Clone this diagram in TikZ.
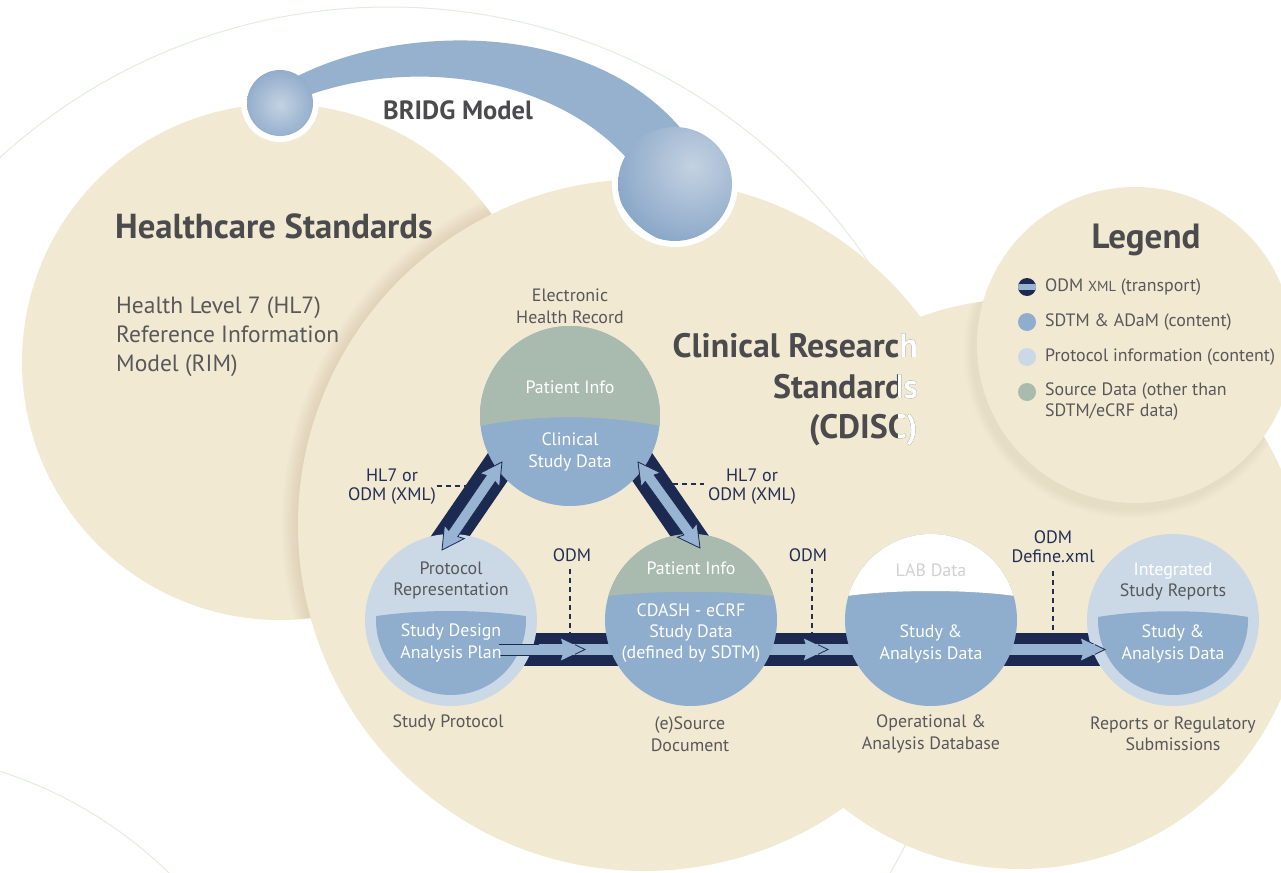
\documentclass[tikz,border=0pt]{standalone}
\usepackage{fontspec}
\setmainfont{PT Sans}
\usetikzlibrary{calc}

\definecolor{beige}{HTML}{F2E9D3}
\definecolor{shadebrown}{HTML}{B8A27A}
\definecolor{navy}{HTML}{1C2951}
\definecolor{midblue}{HTML}{8FADCD}
\definecolor{stripeblue}{HTML}{98B4D3}
\definecolor{paleblue}{HTML}{CBD9E7}
\definecolor{sage}{HTML}{A8BBAE}
\definecolor{txtgrey}{HTML}{58585A}
\definecolor{headgrey}{HTML}{4B4B4D}
\definecolor{odmtext}{HTML}{232E55}
\definecolor{faint}{HTML}{E3ECE0}
\definecolor{bridgband}{HTML}{96B1CD}
\definecolor{sphlight}{HTML}{C4D2E2}
\definecolor{sphdark}{HTML}{8AA7C8}

\tikzset{
  lbl/.style={text=txtgrey, font=\fontsize{17.9}{21.5}\selectfont, align=center, inner sep=0pt},
  wlbl/.style={text=white, font=\fontsize{17.9}{21.2}\selectfont, align=center, inner sep=0pt},
  odmlbl/.style={text=odmtext, font=\fontsize{18}{19}\selectfont, align=center, inner sep=0pt},
  bighead/.style={text=headgrey, font=\bfseries\fontsize{34.7}{40.5}\selectfont, inner sep=0pt},
  crshead/.style={bighead, font=\bfseries\fontsize{33.9}{40.5}\selectfont, align=right, anchor=east},
  dashlink/.style={odmtext, line width=1.3pt, dash pattern=on 5pt off 4pt},
  navyband/.style={navy, line width=33pt},
  lightarrow/.style={fill=stripeblue, draw=navy, line width=0.8pt, line join=miter},
  spot/.style={circle, inner sep=0pt, minimum size=#1},
}

\begin{document}
\begin{tikzpicture}[x=1pt, y=-1pt]
\useasboundingbox (0,0) rectangle (1281,872);
\clip (0,0) rectangle (1281,872);
\fill[white] (0,0) rectangle (1281,872);

% faint background rings
\draw[faint, line width=1pt] (389,585) circle [radius=578pt];
\draw[faint, line width=1pt] (-131,1181) circle [radius=430pt];

% large standard areas
\fill[beige] (280,362) circle [radius=258pt];
\fill[beige] (1020,584) circle [radius=285pt];
% soft shadows cast by the overlapping areas
\begin{scope}
  \clip (280,362) circle [radius=258pt];
  \foreach \k in {1,...,8}{
    \fill[shadebrown, opacity=0.035] (644,525) circle [radius={346+2*\k}];
  }
\end{scope}
\begin{scope}
  \clip (1020,584) circle [radius=285pt];
  \foreach \k in {1,...,6}{
    \fill[shadebrown, opacity=0.025] (1131,351) circle [radius={158+1.5*\k}];
  }
\end{scope}
\fill[beige] (644,525) circle [radius=346pt];
\fill[beige] (1135,345) circle [radius=158pt];

% BRIDG link
\fill[white] (280,103) circle [radius=39pt];
\fill[white] (675,184) circle [radius=63pt];
\fill[bridgband] (294,78) .. controls (400,22) and (600,18) .. (690,140)
  -- (630,162) .. controls (560,80) and (420,55) .. (306,96) -- cycle;
\begin{scope}
  \clip (280,103) circle [radius=33pt];
  \shade[inner color=sphlight, outer color=sphdark] (280,105) circle [radius=40pt];
\end{scope}
\begin{scope}
  \clip (675,184) circle [radius=57pt];
  \shade[inner color=sphlight, outer color=sphdark] (692,166) circle [radius=80pt];
\end{scope}
\node[spot=66pt] (bridgL) at (280,103) {};
\node[spot=114pt] (bridgR) at (675,184) {};

% named positions of the data stores
\node[spot=180pt] (ehr) at (570,416) {};
\node[spot=172pt] (prot) at (451,620) {};
\node[spot=172pt] (src) at (691,620) {};
\node[spot=172pt] (ops) at (931,620) {};
\node[spot=172pt] (rep) at (1173,620) {};

% transport bands
\coordinate (hb0) at (505,649.5);
\coordinate (hb1) at (1100,649.5);
\coordinate (lb0) at (508,452);
\coordinate (lb1) at (436,557);
\coordinate (rb0) at (632,452);
\coordinate (rb1) at (704,557);
\draw[navyband] (hb0) -- (hb1);
\draw[navyband, line width=32pt] (lb0) -- (lb1);
\draw[navyband, line width=32pt] (rb0) -- (rb1);

% study protocol
\fill[paleblue] (prot.center) circle [radius=86pt];
\begin{scope}
  \clip (prot.center) circle [radius=75pt];
  \fill[midblue] (370,617) .. controls (420,609) and (482,609) .. (532,617) -- (532,700) -- (370,700) -- cycle;
\end{scope}

% reports
\fill[paleblue] (rep.center) circle [radius=86pt];
\begin{scope}
  \clip (rep.center) circle [radius=75pt];
  \fill[midblue] (1092,618) .. controls (1142,609) and (1204,609) .. (1254,618) -- (1254,700) -- (1092,700) -- cycle;
\end{scope}

% electronic health record
\fill[midblue] (ehr.center) circle [radius=90pt];
\begin{scope}
  \clip (ehr.center) circle [radius=90pt];
  \fill[sage] (475,427) .. controls (535,414) and (605,414) .. (665,427) -- (665,320) -- (475,320) -- cycle;
\end{scope}

% horizontal data stream
\coordinate (hs0) at (499,649.5);
\coordinate (hs1) at (1086,649.5);
\fill[stripeblue] ($(hs0)+(0,-5.5)$) rectangle ($(hs1)+(0,5.5)$);
\draw[navy, line width=0.8pt] ($(hs0)+(0,-5.5)$) -- ($(hs0)+(40,-5.5)$);
\draw[navy, line width=0.8pt] ($(hs0)+(0,5.5)$) -- ($(hs0)+(40,5.5)$);
\foreach \tip/\nm in {585/ha, 828/hb, 1105/hc}{
  \coordinate (\nm) at (\tip,649.5);
  \path[lightarrow] ($(\nm)+(-23,-5.5)$) -- ($(\nm)+(-25,-12)$) -- (\nm)
     -- ($(\nm)+(-25,12)$) -- ($(\nm)+(-23,5.5)$);
  \fill[stripeblue] ($(\nm)+(-23.6,-5.1)$) rectangle ($(\nm)+(-10,5.1)$);
}

% (e)source document
\fill[midblue] (src.center) circle [radius=86pt];
\begin{scope}
  \clip (src.center) circle [radius=86pt];
  \fill[sage] (600,597) .. controls (650,590) and (732,590) .. (782,597) -- (782,520) -- (600,520) -- cycle;
\end{scope}

% operational database
\fill[midblue] (ops.center) circle [radius=86pt];
\begin{scope}
  \clip (ops.center) circle [radius=86pt];
  \fill[white] (840,597) .. controls (890,589) and (972,589) .. (1022,597) -- (1022,520) -- (840,520) -- cycle;
\end{scope}

% exchange arrows between record, protocol and source
\coordinate (la0) at (502,462);
\coordinate (la1) at (442,550);
\coordinate (ra0) at (638,462);
\coordinate (ra1) at (700,548);
\foreach \a/\b in {la0/la1, ra0/ra1}{
  \path[lightarrow]
    (\a)
    -- ($(\a)!22pt!(\b)!12pt!90:(\b)$)
    -- ($(\a)!20pt!(\b)!5.5pt!90:(\b)$)
    -- ($(\b)!20pt!(\a)!5.5pt!-90:(\a)$)
    -- ($(\b)!22pt!(\a)!12pt!-90:(\a)$)
    -- (\b)
    -- ($(\b)!22pt!(\a)!12pt!90:(\a)$)
    -- ($(\b)!20pt!(\a)!5.5pt!90:(\a)$)
    -- ($(\a)!20pt!(\b)!5.5pt!-90:(\b)$)
    -- ($(\a)!22pt!(\b)!12pt!-90:(\b)$)
    -- cycle;
}

% headings
\node[text=headgrey, font=\bfseries\fontsize{26.4}{30}\selectfont, inner sep=0pt] (bridgtxt) at (458,110) {BRIDG Model};
\node[bighead, anchor=west] (hcs) at (115,226) {Healthcare Standards};
\node[text=txtgrey, font=\fontsize{23.5}{29}\selectfont, align=left, anchor=west, inner sep=0pt] (hl7) at (116,337)
  {Health Level 7 (HL7)\\Reference Information\\Model (RIM)};
\node[crshead] (crs) at (918,390) {Clinical Research\\Standards\\(CDISC)};
\begin{scope}
  \clip (898,320) rectangle (960,460);
  \node[crshead, text=white] (crsw) at (918,390) {Clinical Research\\Standards\\(CDISC)};
\end{scope}

% legend
\node[text=headgrey, font=\bfseries\fontsize{35}{38}\selectfont, inner sep=0pt] (legtitle) at (1146,240) {Legend};
\node[spot=18pt] (lg1) at (1027,287) {};
\node[spot=18pt, fill=midblue] (lg2) at (1027,322) {};
\node[spot=18pt, fill=paleblue] (lg3) at (1027,357) {};
\node[spot=18pt, fill=sage] (lg4) at (1027,392) {};
\fill[navy] (lg1.center) circle [radius=9pt];
\begin{scope}
  \clip (lg1.center) circle [radius=9pt];
  \fill[stripeblue] ($(lg1.center)+(-10,-2.7)$) rectangle ($(lg1.center)+(10,2.7)$);
\end{scope}
\node[lbl, anchor=west] (lt1) at (1045,287) {ODM {\fontsize{14.5}{16}\selectfont XML} (transport)};
\node[lbl, anchor=west] (lt2) at (1045,322) {SDTM \& ADaM (content)};
\node[lbl, anchor=west] (lt3) at (1045,357) {Protocol information (content)};
\node[lbl, anchor=north west, align=left] (lt4) at (1045,382.5) {Source Data (other than\\SDTM/eCRF data)};

% captions of the data stores
\node[lbl] (ehrcap) at (570,306.5) {Electronic\\Health Record};
\node[wlbl] at (570,387) (ehrtop) {Patient Info};
\node[wlbl] at (570,452) (ehrbot) {Clinical\\Study Data};

\node[lbl] (prottop) at (451,580.5) {Protocol\\Representation};
\node[wlbl] (protbot) at (451,643) {Study Design\\Analysis Plan};
\node[lbl] (protcap) at (448,723) {Study Protocol};

\node[wlbl] (srctop) at (691,568) {Patient Info};
\node[wlbl] (srcbot) at (691,633) {CDASH - eCRF\\Study Data\\(defined by SDTM)};
\node[lbl] (srccap) at (690,734) {(e)Source\\Document};

\node[lbl, text=black!18] (opstop) at (931,570) {LAB Data};
\node[wlbl] (opsbot) at (931,644) {Study \&\\Analysis Data};
\node[lbl] (opscap) at (931,734) {Operational \&\\Analysis Database};

\node[wlbl] (reptop) at (1173,571) {Integrated};
\node[lbl] (repmid) at (1173,592) {Study Reports};
\node[wlbl] (repbot) at (1173,644) {Study \&\\Analysis Data};
\node[lbl] (repcap) at (1173,734) {Reports or Regulatory\\Submissions};

% transport annotations
\node[odmlbl] (lodm) at (392,487) {HL7 or\\ODM (XML)};
\node[odmlbl] (rodm) at (752,487) {HL7 or\\ODM (XML)};
\coordinate (ld) at (468,486);
\coordinate (rd) at (704,484);
\draw[dashlink] (437,486) -- (ld);
\draw[dashlink] (673,484) -- (rd);

\node[odmlbl] (odm1) at (572,555) {ODM};
\node[odmlbl] (odm2) at (808,555) {ODM};
\node[odmlbl] (odm3) at (1053,546.5) {ODM\\Define.xml};
\coordinate (d1) at (570,633);
\coordinate (d2) at (812,633);
\coordinate (d3) at (1053,633);
\draw[dashlink] (570,569) -- (d1);
\draw[dashlink] (812,569) -- (d2);
\draw[dashlink] (1053,571) -- (d3);
\end{tikzpicture}
\end{document}
